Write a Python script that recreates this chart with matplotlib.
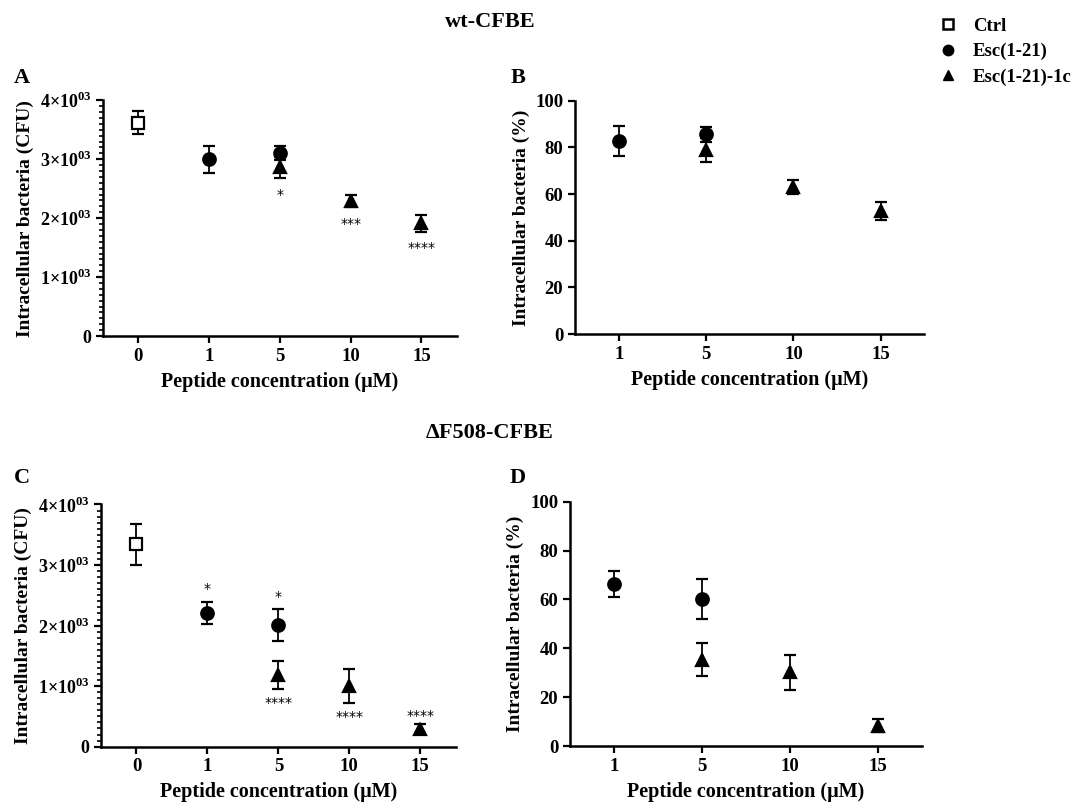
import numpy as np
import matplotlib.pyplot as plt
from matplotlib.ticker import MultipleLocator, FixedLocator
from matplotlib.lines import Line2D

plt.rcParams['font.family'] = ['Liberation Serif', 'DejaVu Serif']
plt.rcParams['font.weight'] = 'bold'
plt.rcParams['mathtext.fontset'] = 'custom'
plt.rcParams['mathtext.rm'] = 'Liberation Serif'
plt.rcParams['mathtext.bf'] = 'Liberation Serif:bold'

# wt-CFBE, CFU (panel A)
conc_cfu = ['0', '1', '5', '10', '15']
ctrl_a = [3620]
ctrl_a_err = [200]
esc_a_conc = ['1', '5']
esc_a = [3000, 3110]
esc_a_err = [230, 120]
tri_a_conc = ['5', '10', '15']
tri_a = [2860, 2290, 1910]
tri_a_err = [180, 100, 140]
tri_a_stars = ['*', '***', '****']

# wt-CFBE, % (panel B)
conc_pct = ['1', '5', '10', '15']
esc_b = [82.7, 85.6]
esc_b_err = [6.5, 3.3]
tri_b = [78.9, 63.1, 52.7]
tri_b_err = [5.0, 2.9, 4.0]

# dF508-CFBE, CFU (panel C)
ctrl_c = [3345]
ctrl_c_err = [340]
esc_c = [2210, 2010]
esc_c_err = [180, 260]
esc_c_stars = ['*', '*']
tri_c = [1185, 995, 290]
tri_c_err = [230, 280, 80]
tri_c_stars = ['****', '****', '****']

# dF508-CFBE, % (panel D)
esc_d = [66.2, 60.2]
esc_d_err = [5.4, 8.0]
tri_d = [35.3, 30.2, 8.4]
tri_d_err = [6.8, 7.2, 2.8]

fig = plt.figure(figsize=(10.72, 8.02), dpi=100)


def series(ax, cats, xs, ys, errs, marker, face, size, z):
    pos = [cats.index(c) for c in xs]
    ax.errorbar(pos, ys, yerr=errs, fmt=marker, color='black', mfc=face, mec='black',
                mew=1.6, ms=size, ecolor='black', elinewidth=1.3, capsize=4.5,
                capthick=1.3, zorder=z, clip_on=False)
    return pos


def stars(ax, cats, xs, ys, errs, labels, above, off):
    for c, y, e, s in zip(xs, ys, errs, labels):
        base = y + e if above else y - e
        ax.annotate(s, (cats.index(c), base), xytext=(0, off if above else -off),
                    textcoords='offset points', ha='center', va='center',
                    fontsize=10, fontweight='normal', family=['DejaVu Sans'])


def style(ax, cats, ymax, cfu):
    ax.set_xlim(-0.5, len(cats) - 0.5)
    ax.set_ylim(0, ymax)
    ax.set_xticks(range(len(cats)))
    ax.set_xticklabels(cats, fontsize=13.5, fontweight='bold')
    for s in ['top', 'right']:
        ax.spines[s].set_visible(False)
    for s in ['left', 'bottom']:
        ax.spines[s].set_linewidth(1.8)
    ax.tick_params(axis='both', width=1.6, length=5, direction='out')
    ax.set_xlabel('Peptide concentration (\u03bcM)', fontsize=14.5, fontweight='bold', labelpad=5)
    if cfu:
        ticks = [0, 1000, 2000, 3000, 4000]
        ax.yaxis.set_major_locator(FixedLocator(ticks))
        ax.yaxis.set_minor_locator(MultipleLocator(100))
        ax.tick_params(axis='y', which='minor', width=1.2, length=3)
        ax.set_yticklabels(['0'] + ['%d\u00d710$^{\\mathbf{03}}$' % (t // 1000) for t in ticks[1:]],
                           fontsize=13, fontweight='bold')
        ax.set_ylabel('Intracellular bacteria (CFU)', fontsize=14, fontweight='bold', labelpad=4)
    else:
        ax.set_yticks([0, 20, 40, 60, 80, 100])
        ax.set_yticklabels(['0', '20', '40', '60', '80', '100'], fontsize=13.5, fontweight='bold')
        ax.set_ylabel('Intracellular bacteria (%)', fontsize=14, fontweight='bold', labelpad=4)


# panel A
axA = fig.add_axes([0.0961, 0.581, 0.330, 0.294])
series(axA, conc_cfu, ['0'], ctrl_a, ctrl_a_err, 's', 'white', 8.5, 3)
series(axA, conc_cfu, tri_a_conc, tri_a, tri_a_err, '^', 'black', 9, 3)
series(axA, conc_cfu, esc_a_conc, esc_a, esc_a_err, 'o', 'black', 9, 4)
stars(axA, conc_cfu, tri_a_conc, tri_a, tri_a_err, tri_a_stars, False, 12)
style(axA, conc_cfu, 4000, True)

# panel B
axB = fig.add_axes([0.5364, 0.5835, 0.326, 0.291])
series(axB, conc_pct, tri_a_conc, tri_b, tri_b_err, '^', 'black', 9, 3)
series(axB, conc_pct, esc_a_conc, esc_b, esc_b_err, 'o', 'black', 9, 4)
style(axB, conc_pct, 100, False)

# panel C
axC = fig.add_axes([0.0942, 0.069, 0.331, 0.302])
series(axC, conc_cfu, ['0'], ctrl_c, ctrl_c_err, 's', 'white', 8.5, 3)
series(axC, conc_cfu, tri_a_conc, tri_c, tri_c_err, '^', 'black', 9, 3)
series(axC, conc_cfu, esc_a_conc, esc_c, esc_c_err, 'o', 'black', 9, 4)
stars(axC, conc_cfu, esc_a_conc, esc_c, esc_c_err, esc_c_stars, True, 9)
stars(axC, conc_cfu, tri_a_conc[:2], tri_c[:2], tri_c_err[:2], tri_c_stars[:2], False, 10)
stars(axC, conc_cfu, tri_a_conc[2:], tri_c[2:], tri_c_err[2:], tri_c_stars[2:], True, 6)
style(axC, conc_cfu, 4000, True)

# panel D
axD = fig.add_axes([0.5317, 0.0698, 0.328, 0.3046])
series(axD, conc_pct, tri_a_conc, tri_d, tri_d_err, '^', 'black', 9, 3)
series(axD, conc_pct, esc_a_conc, esc_d, esc_d_err, 'o', 'black', 9, 4)
style(axD, conc_pct, 100, False)

# titles and panel letters
fig.text(0.457, 0.9726, 'wt-CFBE', ha='center', va='center', fontsize=16, fontweight='bold')
fig.text(0.457, 0.460, '\u0394F508-CFBE', ha='center', va='center', fontsize=16, fontweight='bold')
for letter, x, y in [('A', 0.0205, 0.903), ('B', 0.483, 0.903), ('C', 0.0205, 0.404), ('D', 0.483, 0.404)]:
    fig.text(x, y, letter, ha='center', va='center', fontsize=16, fontweight='bold')

handles = [
    Line2D([], [], ls='none', marker='s', mfc='white', mec='black', mew=1.8, ms=7.5),
    Line2D([], [], ls='none', marker='o', color='black', ms=7.5),
    Line2D([], [], ls='none', marker='^', color='black', ms=7.5),
]
fig.legend(handles, ['Ctrl', 'Esc(1-21)', 'Esc(1-21)-1c'], loc='upper left',
           bbox_to_anchor=(0.862, 0.997), frameon=False,
           handletextpad=0.8, labelspacing=0.45, handlelength=1.0, borderpad=0.3,
           prop={'weight': 'bold', 'size': 13.5})

fig.savefig('out.png', dpi=100)
